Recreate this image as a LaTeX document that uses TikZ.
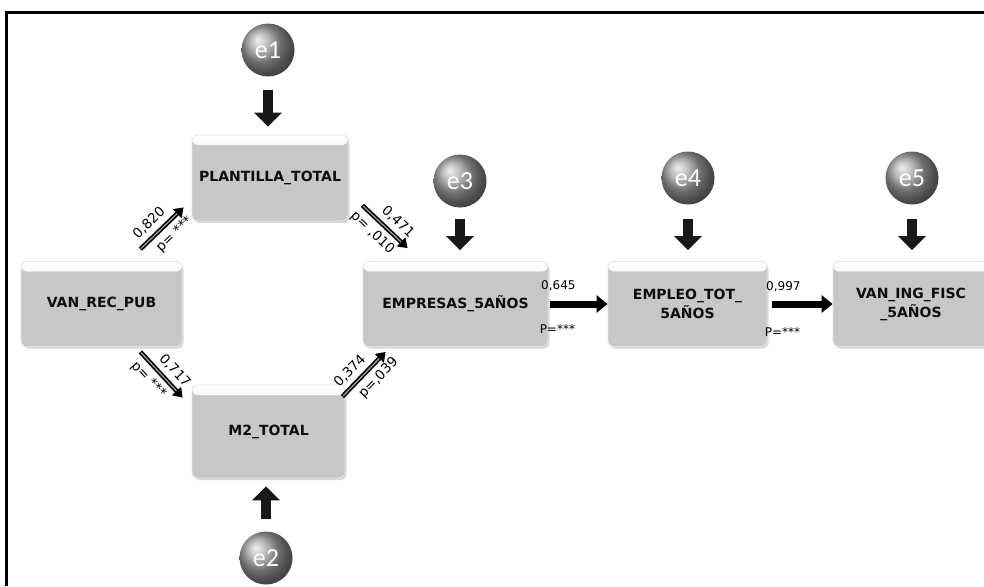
\documentclass[tikz,border=0pt]{standalone}
\usepackage{fontspec}
\setmainfont{DejaVu Sans}
\newfontfamily\efont{Carlito}
\usetikzlibrary{arrows.meta,shadows,calc}
\begin{document}
\begin{tikzpicture}[x=1pt,y=-1pt,
 boxst/.style={rounded corners=6pt, fill=black!22, draw=black!10, line width=0.8pt,
   drop shadow={opacity=0.3, shadow xshift=1.5pt, shadow yshift=-2pt},
   path picture={\shade[top color=white, bottom color=black!22] (path picture bounding box.north west) rectangle ([yshift=-10pt]path picture bounding box.north east);},
   font=\bfseries\fontsize{14}{19}\selectfont, text=black!95, align=center, inner sep=2pt},
 ball/.style={circle, minimum size=53pt, inner sep=0pt, shading=ball, ball color=black!38, text=white, font=\efont\fontsize{26}{26}\selectfont},
 blockarr/.style={line width=10pt, black!90, -{Triangle[width=27pt,length=14pt]}},
 diagarr/.style={line width=4.5pt, -{Triangle[width=12pt,length=9pt]}},
 hilite/.style={line width=1.3pt, black!40, shorten >=9pt, shorten <=1pt},
 harr/.style={line width=7pt, -{Triangle[width=17pt,length=11pt]}},
 lab/.style={font=\fontsize{13.5}{14}\selectfont, inner sep=0.5pt},
 slab/.style={font=\fontsize{12}{13}\selectfont, inner sep=1pt}
]
\useasboundingbox (0,0) rectangle (984,586);
\fill[white] (0,0) rectangle (984,586);
\draw[line width=3pt] (6,586) -- (6,13) -- (984,13);

% boxes
\node[boxst, minimum width=156pt, minimum height=86pt] (plant) at (270,178) {PLANTILLA\_TOTAL};
\node[boxst, minimum width=161pt, minimum height=85pt] (vanrec) at (101.5,304) {VAN\_REC\_PUB};
\node[boxst, minimum width=153pt, minimum height=93pt] (m2) at (268.5,431.5) {M2\_TOTAL};
\node[boxst, minimum width=185pt, minimum height=85pt] (empr) at (455.5,304) {EMPRESAS\_5AÑOS};
\node[boxst, minimum width=159pt, minimum height=85pt] (emplo) at (687.5,304) {EMPLEO\_TOT\_\\5AÑOS};
\node[boxst, minimum width=156pt, minimum height=85pt] (vaning) at (911,304) {VAN\_ING\_FISC\\\_5AÑOS};

% error terms
\node[ball] (e1) at (268,50) {e1};
\node[ball] (e2) at (266,558) {e2};
\node[ball] (e3) at (460,181) {e3};
\node[ball] (e4) at (688,178) {e4};
\node[ball] (e5) at (912,178) {e5};

\draw[blockarr, shorten <=13pt, shorten >=8pt] (e1.south) -- (e1.south |- plant.north);
\draw[blockarr, shorten <=11pt, shorten >=11pt] (e3.south) -- (e3.south |- empr.north);
\draw[blockarr, shorten <=14pt, shorten >=11pt] (e4.south) -- (e4.south |- emplo.north);
\draw[blockarr, shorten <=14pt, shorten >=11pt] (e5.south) -- (e5.south |- vaning.north);
\draw[blockarr, shorten <=12pt, shorten >=8pt] (e2.north) -- (e2.north |- m2.south);

% diagonal paths
\coordinate (a1s) at ($(vanrec.north east)+(-42,-12)$);
\coordinate (a1e) at ($(plant.south west)+(-8,-14)$);
\coordinate (a2s) at ($(plant.south east)+(14,-16)$);
\coordinate (a2e) at ($(empr.north west)+(45,-13)$);
\coordinate (a3s) at ($(vanrec.south east)+(-42,5)$);
\coordinate (a3e) at ($(m2.north west)+(-9,13)$);
\coordinate (a4s) at ($(m2.north east)+(-3,12)$);
\coordinate (a4e) at ($(empr.south west)+(23,5)$);

\draw[diagarr] (a1s) -- (a1e) node[lab, pos=0.4, sloped, above=4pt] {0,820} node[lab, pos=0.58, sloped, below=4pt] {p= ***};
\draw[hilite] (a1s) -- (a1e);
\draw[diagarr] (a2s) -- (a2e) node[lab, pos=0.6, sloped, above=4pt] {0,471} node[lab, pos=0.42, sloped, below=4pt] {p= ,010};
\draw[hilite] (a2s) -- (a2e);
\draw[diagarr] (a3s) -- (a3e) node[lab, pos=0.6, sloped, above=4pt] {0,717} node[lab, pos=0.42, sloped, below=4pt] {p= ***};
\draw[hilite] (a3s) -- (a3e);
\draw[diagarr] (a4s) -- (a4e) node[lab, pos=0.38, sloped, above=4pt] {0,374} node[lab, pos=0.62, sloped, below=4pt] {p=,039};
\draw[hilite] (a4s) -- (a4e);

% horizontal paths
\draw[harr, shorten <=2pt] (empr.east) -- (emplo.west);
\draw[harr, shorten <=5pt] (emplo.east) -- (vaning.west);
\node[slab] at ($(empr.east)+(10,-18)$) {0,645};
\node[slab] at ($(empr.east)+(9,25)$) {P=***};
\node[slab] at ($(emplo.east)+(16,-17)$) {0,997};
\node[slab] at ($(emplo.east)+(15,28)$) {P=***};
\end{tikzpicture}
\end{document}
